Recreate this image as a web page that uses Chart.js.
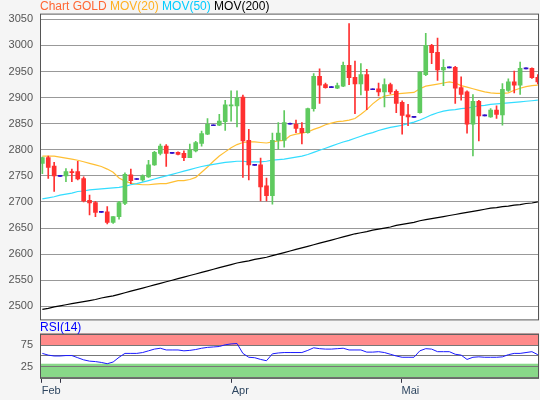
<!DOCTYPE html>
<html><head><meta charset="utf-8">
<script src="https://cdn.jsdelivr.net/npm/chart.js@4.4.1/dist/chart.umd.min.js"></script>
<style>
html,body{margin:0;padding:0;background:#f5f5f5;width:540px;height:400px;overflow:hidden;font-family:"Liberation Sans",Arial,sans-serif}
.t{position:absolute;font-size:12px;line-height:12px;white-space:nowrap;z-index:2}
</style></head><body>
<div class="t" style="left:40px;top:0px"><span style="color:#ff6633">Chart GOLD</span> <span style="color:#ffb020">MOV(20)</span> <span style="color:#00ccff">MOV(50)</span> <span style="color:#000">MOV(200)</span></div>
<div class="t" style="left:40px;top:321px;color:#0000ff">RSI(14)</div>
<div id="w1" style="position:absolute;left:0;top:0;width:540px;height:334px"><canvas id="c1"></canvas></div>
<div id="w2" style="position:absolute;left:0;top:320px;width:540px;height:80px"><canvas id="c2"></canvas></div>
<script>
const openP  = [2774,2785,2769,2750,2750,2758,2758,2745,2703,2699,2681,2681,2661,2672,2697,2752,2744,2742,2748,2771,2793,2807,2794,2795,2793,2785,2798,2812,2830,2847,2847,2854,2884,2884,2901,2818,2771,2771,2731,2712,2818,2818,2850,2849,2841,2833,2879,2941,2925,2920,2918,2922,2962,2939,2926,2944,2916,2917,2911,2925,2912,2891,2867,2863,2871,2944,3000,2987,2953,2958,2958,2919,2911,2849,2893,2866,2863,2876,2867,2914,2930,2924,2956,2956,2939];
const closeP = [2785,2766,2750,2750,2758,2756,2744,2702,2698,2680,2681,2661,2672,2699,2753,2741,2744,2750,2771,2795,2807,2793,2794,2791,2785,2800,2814,2831,2849,2847,2855,2886,2886,2900,2817,2771,2771,2729,2712,2818,2832,2852,2850,2841,2833,2879,2941,2924,2919,2920,2923,2962,2938,2926,2944,2914,2916,2911,2925,2911,2889,2866,2863,2863,2949,3000,2986,2953,2958,2958,2918,2906,2849,2893,2865,2866,2876,2868,2916,2930,2924,2956,2956,2938,2930];
const highP  = [2786,2788,2776,2751,2764,2763,2778,2748,2713,2701,2682,2691,2672,2701,2756,2763,2745,2752,2780,2797,2811,2810,2795,2796,2798,2811,2816,2836,2860,2848,2868,2895,2913,2913,2905,2839,2772,2784,2746,2832,2852,2875,2851,2857,2852,2880,2946,2955,2928,2921,2928,2968,3042,2970,2965,2954,2917,2928,2936,2928,2915,2894,2887,2864,2950,3023,3002,3014,2973,2959,2960,2940,2913,2906,2895,2867,2879,2884,2927,2936,2951,2968,2957,2957,2944];
const lowP   = [2754,2745,2720,2749,2739,2739,2742,2700,2675,2672,2680,2658,2659,2667,2695,2735,2743,2740,2747,2770,2790,2768,2793,2790,2779,2785,2796,2807,2829,2846,2846,2837,2855,2844,2747,2742,2770,2702,2702,2696,2801,2805,2849,2833,2811,2832,2874,2889,2918,2919,2917,2921,2925,2869,2905,2877,2915,2903,2882,2907,2871,2830,2846,2862,2870,2942,2965,2933,2923,2957,2889,2895,2832,2788,2817,2865,2862,2860,2847,2912,2909,2906,2955,2937,2926];
const mov20  = [2788,2788,2788,2786,2784,2782,2780,2777,2774,2771,2768,2763,2757,2746,2740,2736,2734,2733,2733,2734,2735,2735,2738,2741,2741,2743,2747,2757,2767,2778,2788,2796,2804,2810,2814,2815,2815,2814,2813,2815,2817,2818,2827,2830,2832,2834,2839,2843,2848,2851,2854,2855,2857,2860,2868,2877,2888,2897,2903,2905,2907,2908,2909,2910,2917,2922,2924,2926,2928,2930,2928,2923,2920,2917,2914,2911,2909,2908,2908,2909,2914,2918,2921,2923,2924];
const mov50  = [2706,2708,2710,2713,2715,2717,2720,2721,2723,2724,2725,2726,2727,2728,2730,2733,2735,2738,2741,2744,2747,2750,2753,2756,2759,2762,2765,2768,2770,2772,2774,2776,2777,2778,2778,2777,2777,2777,2778,2780,2781,2782,2784,2786,2788,2791,2795,2799,2803,2807,2811,2815,2818,2822,2826,2830,2833,2837,2840,2843,2845,2847,2850,2853,2857,2862,2867,2871,2874,2876,2877,2879,2880,2882,2884,2885,2887,2888,2889,2890,2891,2892,2893,2894,2895];
const mov200 = [2494,2496,2499,2501,2503,2505,2507,2509,2511,2513,2516,2518,2520,2523,2526,2529,2532,2535,2538,2541,2544,2547,2550,2553,2556,2559,2562,2565,2568,2571,2574,2577,2580,2583,2585,2587,2590,2592,2594,2597,2600,2603,2606,2609,2612,2615,2618,2621,2624,2627,2630,2633,2636,2639,2641,2643,2646,2648,2650,2652,2655,2657,2659,2661,2664,2666,2668,2670,2672,2674,2676,2678,2680,2682,2684,2686,2688,2689,2691,2692,2694,2695,2697,2698,2700];
const rsi    = [56,52,50,50,51,51,46,41,38,37,35,32,36,47,56,56,56,58,62,66,68,64,64,64,62,63,65,68,70,71,72,76,78,79,56,47,46,42,39,55,57,58,58,58,58,63,69,67,66,66,67,68,64,64,64,59,59,60,58,54,50,47,47,47,62,67,66,60,60,60,54,52,42,47,48,47,47,47,48,53,56,56,58,60,53];
const priceTicks = [2500,2550,2600,2650,2700,2750,2800,2850,2900,2950,3000,3050];
const rsiTicks = [0,25,50,75,100];
const rsiLabels = [25,75];
const monthTicks = [{pos:-0.1,label:'Feb'},{pos:3,label:''},{pos:32.1,label:'Apr'},{pos:60.9,label:'Mai'}];

const N = openP.length;
const XMIN=-0.4, XMAX=84.2;
const GREEN='#5fca5f', RED='#ff3030', DOJI='#3010c8';
const col = i => openP[i]===closeP[i] ? DOJI : (closeP[i]>openP[i]?GREEN:RED);
const wick=[],body=[],wc=[],bc=[];
for(let i=0;i<N;i++){
  wick.push({x:i,y:[lowP[i],highP[i]]});
  const o=openP[i],c=closeP[i];
  body.push({x:i,y: o===c?[o-0.9,o+0.9]:[o,c]});
  wc.push(col(i)); bc.push(col(i));
}
const pts = a => a.map((v,i)=>({x:i,y:v}));
const frame = {
  id:'frame',
  beforeDraw(ch){const a=ch.chartArea,c=ch.ctx;c.save();c.fillStyle='#fff';c.fillRect(a.left,a.top,a.right-a.left,a.bottom-a.top);
    if(ch.canvas.id==='c2'){const y=ch.scales.y;c.fillStyle='#ff8a8a';let t=y.getPixelForValue(75);c.fillRect(a.left,a.top,a.right-a.left,t-a.top);
      c.fillStyle='#88d888';let g=y.getPixelForValue(32);c.fillRect(a.left,g,a.right-a.left,a.bottom-g);}
    c.restore();},
  afterDraw(ch){const a=ch.chartArea,c=ch.ctx;c.save();c.strokeStyle='#555';c.lineWidth=1;c.strokeRect(a.left+0.5,a.top+0.5,a.right-a.left-1,a.bottom-a.top-1);c.restore();}
};
const font={family:'"Liberation Sans", Arial, sans-serif',size:11};
new Chart(document.getElementById('c1'),{
  type:'bar',
  data:{datasets:[
    {type:'line',data:pts(mov200),borderColor:'#000',borderWidth:1.2,pointRadius:0,order:3},
    {type:'line',data:pts(mov50),borderColor:'#33ddff',borderWidth:1.2,pointRadius:0,order:3},
    {type:'line',data:pts(mov20),borderColor:'#ffbf33',borderWidth:1.2,pointRadius:0,order:3},
    {data:wick,backgroundColor:wc,barThickness:1,grouped:false,order:2},
    {data:body,backgroundColor:bc,barThickness:4,grouped:false,order:1}
  ]},
  options:{responsive:true,maintainAspectRatio:false,animation:false,
    layout:{padding:{top:12,right:1,bottom:2,left:0}},
    plugins:{legend:{display:false},tooltip:{enabled:false}},
    scales:{
      x:{type:'linear',min:XMIN,max:XMAX,offset:false,display:false},
      y:{min:2473,max:3061,afterBuildTicks:s=>{s.ticks=priceTicks.map(v=>({value:v}));},
         afterFit:s=>{s.width=40;},
         grid:{color:'#999',drawTicks:false},border:{display:false},
         ticks:{color:'#555',font,padding:7,autoSkip:false,callback:v=>String(v)}}
    }},
  plugins:[frame]
});
new Chart(document.getElementById('c2'),{
  type:'line',
  data:{datasets:[{data:pts(rsi),borderColor:'#1a1aff',borderWidth:1,pointRadius:0}]},
  options:{responsive:true,maintainAspectRatio:false,animation:false,
    layout:{padding:{top:13,right:1,bottom:0,left:0}},
    plugins:{legend:{display:false},tooltip:{enabled:false}},
    scales:{
      x:{type:'linear',min:XMIN,max:XMAX,
         afterBuildTicks:s=>{s.ticks=monthTicks.map(m=>({value:m.pos}));},
         grid:{drawOnChartArea:false,drawTicks:true,tickLength:4,color:'#334'},border:{display:false},
         ticks:{color:'#2e4660',font,align:'start',padding:2,maxRotation:0,autoSkip:false,
           callback:(v,i)=>monthTicks[i]?monthTicks[i].label:''}},
      y:{min:-3,max:102,afterBuildTicks:s=>{s.ticks=rsiTicks.map(v=>({value:v}));},
         afterFit:s=>{s.width=40;},
         grid:{color:'#777',drawTicks:false},border:{display:false},
         ticks:{color:'#555',font,padding:7,autoSkip:false,callback:v=>rsiLabels.includes(v)?String(v):''}}
    }},
  plugins:[frame]
});
</script></body></html>
